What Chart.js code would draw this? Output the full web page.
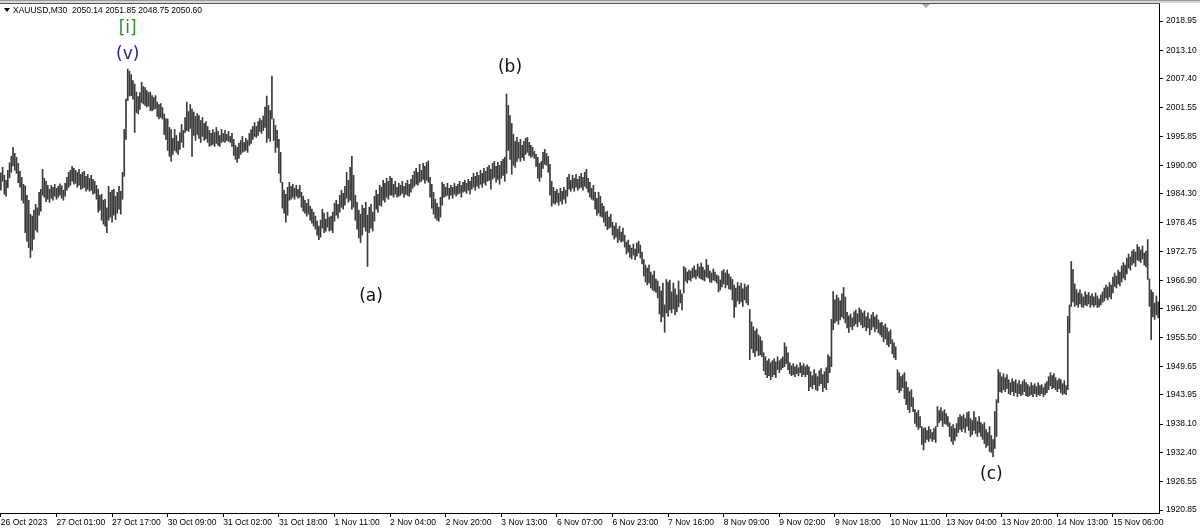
<!DOCTYPE html>
<html>
<head>
<meta charset="utf-8">
<script src="https://cdn.jsdelivr.net/npm/chart.js@4.4.1/dist/chart.umd.min.js"></script>
<style>
  html, body { margin: 0; padding: 0; background: #fff; }
  canvas { display: block; }
</style>
</head>
<body>
<canvas id="chart" width="1200" height="532"></canvas>
<script>
// XAUUSD M30 bars, high / low of each bar
const highs = [
  1988.5, 1989.6, 1988.0, 1987.0, 1989.0, 1990.5, 1991.8, 1993.6, 1992.4, 1991.6,
  1990.4, 1988.8, 1987.6, 1986.2, 1985.9, 1984.0, 1983.0, 1980.2, 1979.8, 1981.0,
  1982.2, 1981.5, 1984.6, 1985.2, 1989.2, 1987.4, 1986.8, 1986.0, 1985.2, 1986.0,
  1985.6, 1986.2, 1985.4, 1985.8, 1986.3, 1985.9, 1985.0, 1986.4, 1987.6, 1988.6,
  1989.0, 1989.8, 1989.4, 1989.0, 1988.6, 1989.2, 1988.2, 1988.6, 1988.8, 1987.8,
  1988.2, 1987.4, 1988.0, 1987.2, 1986.8, 1986.0, 1985.2, 1984.0, 1984.2, 1983.0,
  1983.2, 1981.5, 1985.8, 1984.6, 1985.0, 1985.2, 1983.8, 1984.6, 1985.8, 1984.8,
  1988.6, 1997.2, 2003.3, 2009.3, 2008.9, 2008.2, 2007.0, 2006.3, 2004.7, 2003.8,
  2004.6, 2006.7, 2005.8, 2005.6, 2005.0, 2004.6, 2004.7, 2004.0, 2003.6, 2004.0,
  2002.7, 2002.2, 2002.4, 2001.6, 2000.3, 1999.4, 1999.3, 1997.6, 1997.2, 1995.4,
  1997.2, 1996.0, 1994.8, 1996.5, 1998.2, 1997.0, 1999.6, 2002.7, 2000.8, 2002.2,
  2001.3, 2000.7, 1999.8, 2000.4, 2000.0, 1999.0, 1999.6, 1998.4, 1998.8, 1997.8,
  1997.0, 1996.4, 1997.2, 1996.6, 1997.6, 1996.8, 1996.0, 1997.2, 1996.4, 1997.0,
  1996.2, 1996.8, 1995.8, 1996.4, 1995.2, 1994.0, 1993.6, 1994.4, 1995.0, 1995.8,
  1994.6, 1995.4, 1995.0, 1996.4, 1997.2, 1997.8, 1998.6, 1997.8, 1998.8, 1999.4,
  1999.0, 1999.9, 2001.7, 2003.9, 2002.0, 2001.0, 2007.9, 1999.3, 1998.0, 1997.0,
  1995.2, 1992.6, 1986.6, 1985.0, 1984.2, 1985.6, 1986.6, 1985.8, 1986.2, 1985.4,
  1986.0, 1985.2, 1986.0, 1984.6, 1983.8, 1983.0, 1982.4, 1983.2, 1981.8, 1981.2,
  1980.6, 1979.8, 1978.8, 1977.8, 1979.0, 1981.2, 1980.4, 1979.2, 1980.6, 1979.6,
  1979.8, 1980.6, 1982.4, 1983.0, 1982.2, 1984.0, 1985.0, 1984.4, 1985.8, 1988.6,
  1987.0, 1989.6, 1991.8, 1988.0, 1984.0, 1982.6, 1981.0, 1980.2, 1982.0, 1981.4,
  1982.6, 1980.0, 1981.6, 1982.2, 1980.6, 1983.8, 1985.0, 1984.2, 1986.0, 1985.6,
  1987.0, 1986.4, 1987.4, 1986.8, 1987.8, 1987.4, 1986.2, 1986.8, 1985.6, 1986.4,
  1986.0, 1986.8, 1985.8, 1986.4, 1987.0, 1986.2, 1987.2, 1988.0, 1988.8, 1989.4,
  1988.6, 1990.2, 1989.0, 1990.4, 1989.8, 1990.6, 1990.9, 1987.6, 1986.2, 1984.6,
  1983.2, 1982.4, 1981.6, 1983.6, 1986.6, 1986.2, 1985.6, 1986.4, 1985.4, 1986.0,
  1985.6, 1986.4, 1985.8, 1986.2, 1986.8, 1986.0, 1986.6, 1987.0, 1986.4, 1987.2,
  1986.8, 1987.6, 1988.4, 1987.8, 1988.6, 1988.0, 1989.0, 1988.4, 1989.4, 1988.8,
  1989.6, 1990.0, 1989.2, 1990.4, 1990.8, 1989.8, 1990.6, 1990.0, 1990.8, 1991.2,
  1991.6, 2004.3, 2002.0, 2000.0, 1998.4, 1996.2, 1994.8, 1995.6, 1994.6, 1995.2,
  1994.0, 1994.8, 1995.4, 1995.6, 1994.6, 1994.0, 1993.6, 1992.8, 1992.2, 1991.6,
  1990.4, 1990.8, 1992.6, 1993.2, 1992.4, 1991.8, 1990.2, 1986.8, 1985.6, 1984.8,
  1985.2, 1984.4, 1985.4, 1984.8, 1985.6, 1985.0, 1987.6, 1988.2, 1987.0, 1988.0,
  1987.4, 1988.2, 1987.2, 1987.8, 1988.4, 1987.6, 1988.6, 1989.2, 1987.4, 1986.6,
  1985.4, 1986.0, 1984.6, 1983.4, 1984.6, 1983.8, 1982.4, 1981.8, 1980.6, 1980.8,
  1979.6, 1980.2, 1978.6, 1977.8, 1978.4, 1977.2, 1977.8, 1976.6, 1977.4, 1976.0,
  1974.6, 1975.0, 1974.0, 1973.4, 1974.2, 1973.2, 1974.4, 1974.8, 1974.0, 1972.6,
  1971.1, 1970.0, 1969.4, 1970.0, 1968.6, 1968.0, 1968.8, 1967.2, 1966.8, 1965.7,
  1964.8, 1966.4, 1962.0, 1967.1, 1966.6, 1967.0, 1964.6, 1966.4, 1965.2, 1964.0,
  1966.8, 1965.0, 1964.2, 1969.7, 1969.4, 1968.6, 1969.0, 1968.8, 1969.4, 1969.8,
  1969.0, 1970.2, 1969.6, 1970.4, 1969.6, 1969.0, 1971.1, 1970.0, 1968.8, 1968.4,
  1969.2, 1968.6, 1968.0, 1967.8, 1967.0, 1968.8, 1969.1, 1968.4, 1969.0, 1968.2,
  1967.6, 1967.1, 1966.0, 1965.4, 1966.5, 1965.8, 1966.4, 1965.2, 1966.2, 1965.6,
  1966.0, 1961.1, 1958.6, 1957.6, 1956.8, 1957.2, 1956.0, 1955.6, 1954.8, 1952.4,
  1951.6, 1950.8, 1951.2, 1950.4, 1950.8, 1951.2, 1950.6, 1951.6, 1950.8, 1951.2,
  1951.6, 1954.4, 1953.6, 1952.4, 1950.4, 1949.8, 1950.2, 1949.6, 1950.0, 1949.4,
  1950.4, 1949.8, 1950.2, 1949.6, 1950.0, 1949.6, 1948.6, 1947.8, 1949.0, 1948.2,
  1947.6, 1948.8, 1949.2, 1948.0, 1948.6, 1949.4, 1952.0, 1951.6, 1959.1, 1964.7,
  1963.0, 1964.0, 1963.4, 1962.8, 1964.2, 1965.5, 1963.6, 1960.5, 1959.8, 1960.2,
  1959.4, 1960.6, 1961.0, 1960.2, 1961.4, 1961.0, 1960.4, 1960.8, 1959.6, 1960.4,
  1959.2, 1960.0, 1960.5, 1959.6, 1960.0, 1959.0, 1958.4, 1958.5, 1957.8, 1958.2,
  1957.4, 1956.6, 1957.0, 1955.0, 1954.4, 1953.6, 1949.0, 1948.4, 1947.6, 1948.0,
  1948.4, 1946.6, 1945.4, 1944.6, 1945.0, 1943.4, 1941.0, 1940.4, 1940.8, 1939.6,
  1937.6, 1937.2, 1937.4, 1936.8, 1937.6, 1937.0, 1936.4, 1937.2, 1937.6, 1941.6,
  1940.8, 1941.4, 1940.6, 1941.0, 1940.2, 1939.6, 1938.4, 1937.6, 1938.0, 1937.2,
  1938.2, 1939.4, 1940.0, 1939.6, 1940.0, 1939.2, 1940.4, 1940.6, 1939.2, 1938.8,
  1940.6, 1939.4, 1938.6, 1939.6, 1938.4, 1938.0, 1938.4, 1937.0, 1936.4, 1937.6,
  1935.8, 1935.0, 1940.6, 1943.0, 1949.0, 1948.4, 1947.6, 1948.2, 1947.4, 1948.0,
  1947.0, 1946.4, 1947.2, 1946.6, 1947.0, 1946.2, 1946.8, 1946.0, 1946.6, 1947.0,
  1946.4, 1946.0, 1945.6, 1946.4, 1945.8, 1946.2, 1945.6, 1946.4, 1945.8, 1946.0,
  1945.4, 1946.2, 1946.6, 1947.6, 1948.4, 1947.8, 1948.2, 1947.4, 1946.8, 1947.2,
  1947.0, 1946.2, 1946.8, 1945.8, 1959.7, 1962.0, 1970.7, 1969.1, 1966.2, 1965.1,
  1964.4, 1965.0, 1964.2, 1963.6, 1964.6, 1964.0, 1964.5, 1963.8, 1964.2, 1963.6,
  1964.4, 1963.8, 1963.2, 1964.0, 1964.6, 1965.4, 1966.0, 1965.6, 1966.5, 1966.0,
  1967.6, 1968.4, 1967.8, 1969.0, 1968.6, 1969.8, 1970.5, 1970.0, 1971.4, 1972.2,
  1971.6, 1972.8, 1973.1, 1972.6, 1974.1, 1973.6, 1973.0, 1973.8, 1972.4, 1972.8,
  1975.1, 1967.2, 1965.0, 1964.5, 1962.4, 1963.8, 1962.6
];
const lows = [
  1985.0, 1986.8, 1984.2, 1983.8, 1985.5, 1987.5, 1988.6, 1989.9, 1989.0, 1988.4,
  1986.5, 1985.6, 1983.0, 1982.4, 1976.5, 1974.8, 1973.5, 1971.5, 1973.0, 1975.2,
  1977.0, 1976.6, 1980.0, 1980.8, 1984.0, 1983.6, 1982.7, 1983.2, 1982.6, 1983.4,
  1983.0, 1983.8, 1983.2, 1983.6, 1984.0, 1983.4, 1983.0, 1983.8, 1985.0, 1985.6,
  1986.0, 1986.8, 1986.2, 1986.4, 1985.6, 1986.0, 1985.2, 1985.4, 1985.6, 1984.8,
  1985.2, 1984.8, 1985.0, 1984.2, 1984.4, 1983.2, 1980.6, 1981.0, 1979.0, 1978.2,
  1977.8, 1976.5, 1979.0, 1979.6, 1978.6, 1980.0, 1979.1, 1980.4, 1981.2, 1980.2,
  1983.2, 1987.8, 1995.2, 2003.0, 2003.9, 2004.0, 2003.3, 1996.6, 2000.6, 2000.3,
  2001.2, 2002.6, 2002.3, 2002.0, 2001.7, 2001.9, 2001.0, 2000.9, 2001.2, 2001.4,
  1999.8, 1999.3, 1999.6, 1999.3, 1996.2, 1995.2, 1993.0, 1991.8, 1990.8, 1992.2,
  1993.0, 1992.6, 1992.2, 1993.2, 1994.6, 1993.6, 1996.6, 1997.0, 1996.8, 1997.4,
  1991.8, 1996.0, 1995.0, 1996.2, 1995.4, 1994.6, 1995.8, 1995.0, 1995.3, 1994.6,
  1993.8, 1994.0, 1994.2, 1993.8, 1994.4, 1994.0, 1993.8, 1994.6, 1994.8, 1994.6,
  1995.0, 1994.8, 1994.6, 1993.8, 1992.0, 1991.2, 1990.6, 1991.4, 1992.2, 1992.6,
  1992.8, 1993.0, 1992.6, 1994.0, 1994.4, 1995.2, 1995.8, 1995.6, 1996.0, 1996.8,
  1996.4, 1997.0, 1997.6, 1994.6, 1995.4, 1994.8, 1999.3, 1995.0, 1992.6, 1993.6,
  1988.4, 1986.6, 1981.4, 1980.4, 1978.6, 1980.0, 1983.0, 1983.2, 1983.6, 1983.2,
  1983.8, 1983.4, 1983.6, 1981.6, 1980.8, 1980.4, 1979.8, 1980.2, 1979.0, 1978.4,
  1977.8, 1977.2, 1976.0, 1975.1, 1975.6, 1977.4, 1976.5, 1976.8, 1977.6, 1976.8,
  1977.0, 1976.5, 1978.8, 1980.0, 1979.4, 1980.6, 1981.6, 1981.2, 1982.0, 1983.4,
  1982.6, 1983.0, 1981.2, 1981.6, 1979.0, 1977.2, 1975.4, 1974.5, 1976.0, 1977.6,
  1976.8, 1969.7, 1976.5, 1977.4, 1976.8, 1978.8, 1981.2, 1980.6, 1982.0, 1981.8,
  1983.0, 1982.6, 1983.6, 1983.2, 1984.0, 1984.0, 1983.6, 1984.2, 1983.6, 1983.8,
  1984.0, 1984.4, 1983.6, 1984.2, 1984.0, 1983.8, 1984.6, 1985.4, 1985.8, 1986.2,
  1986.0, 1986.6, 1986.8, 1987.2, 1986.4, 1987.0, 1986.6, 1983.6, 1981.4, 1980.2,
  1979.4, 1979.0, 1978.8, 1979.6, 1982.0, 1983.6, 1983.8, 1984.0, 1983.2, 1984.0,
  1983.4, 1984.2, 1983.8, 1984.2, 1984.4, 1983.6, 1984.6, 1984.8, 1984.4, 1985.0,
  1984.2, 1985.2, 1985.6, 1985.0, 1985.8, 1985.4, 1986.2, 1985.6, 1986.4, 1986.0,
  1986.8, 1987.0, 1985.2, 1987.2, 1987.6, 1986.6, 1987.2, 1986.2, 1987.4, 1988.0,
  1986.8, 1988.4, 1993.0, 1991.2, 1988.2, 1990.0, 1989.6, 1990.8, 1991.4, 1990.8,
  1991.6, 1991.0, 1992.2, 1992.6, 1992.0, 1991.6, 1991.8, 1991.4, 1989.8, 1987.4,
  1986.8, 1987.6, 1989.4, 1990.2, 1990.0, 1988.6, 1984.0, 1981.8, 1982.4, 1982.2,
  1982.6, 1982.0, 1982.8, 1982.2, 1983.2, 1982.4, 1983.8, 1985.2, 1984.8, 1985.4,
  1984.8, 1985.6, 1985.0, 1985.4, 1985.6, 1985.0, 1985.8, 1985.4, 1984.6, 1983.6,
  1983.2, 1983.0, 1981.2, 1980.0, 1980.4, 1979.8, 1979.6, 1978.6, 1977.8, 1977.1,
  1977.4, 1977.6, 1976.0, 1975.2, 1975.6, 1974.5, 1975.0, 1974.6, 1974.8, 1973.6,
  1972.2, 1972.6, 1971.6, 1971.2, 1972.0, 1971.1, 1971.8, 1972.4, 1971.4, 1970.2,
  1967.8, 1966.6, 1966.0, 1966.4, 1965.4, 1965.0, 1964.8, 1964.5, 1963.4, 1960.2,
  1958.6, 1959.6, 1956.5, 1960.4, 1959.7, 1961.0, 1960.4, 1961.2, 1960.0, 1960.6,
  1961.6, 1962.4, 1961.0, 1964.4, 1966.8, 1966.4, 1967.0, 1966.8, 1967.4, 1967.6,
  1967.2, 1967.8, 1967.4, 1967.2, 1967.0, 1966.8, 1967.6, 1967.4, 1966.6, 1966.5,
  1967.0, 1966.8, 1966.4, 1964.6, 1965.0, 1965.6, 1966.2, 1965.4, 1966.0, 1965.2,
  1965.1, 1963.0, 1959.5, 1961.6, 1962.8, 1962.2, 1962.6, 1961.7, 1963.0, 1962.4,
  1962.0, 1951.0, 1953.2, 1952.4, 1951.6, 1952.8, 1951.8, 1952.0, 1951.6, 1948.8,
  1948.0, 1947.4, 1947.8, 1947.0, 1947.6, 1948.0, 1947.4, 1949.0, 1948.4, 1949.0,
  1949.4, 1949.6, 1950.2, 1949.0, 1948.2, 1947.8, 1948.0, 1947.6, 1948.2, 1947.8,
  1948.4, 1947.6, 1948.0, 1947.6, 1948.0, 1944.8, 1945.6, 1945.2, 1946.0, 1945.0,
  1944.8, 1945.8, 1946.2, 1944.6, 1945.4, 1945.0, 1946.4, 1948.4, 1949.6, 1957.0,
  1958.4, 1958.8, 1958.1, 1959.0, 1959.6, 1959.2, 1958.4, 1957.4, 1956.5, 1957.6,
  1957.0, 1957.8, 1958.2, 1957.6, 1958.6, 1958.0, 1957.4, 1957.6, 1956.8, 1957.4,
  1956.0, 1957.0, 1957.6, 1956.6, 1957.2, 1956.4, 1956.0, 1955.6, 1954.6, 1955.2,
  1954.0, 1953.6, 1954.2, 1952.2, 1951.4, 1951.0, 1945.0, 1944.4, 1944.8, 1945.4,
  1943.2, 1942.0, 1941.0, 1940.4, 1941.6, 1940.6, 1938.2, 1937.6, 1937.0, 1937.4,
  1934.0, 1932.9, 1934.4, 1935.0, 1934.6, 1935.2, 1934.6, 1935.0, 1934.4, 1937.6,
  1938.4, 1938.8, 1937.6, 1938.2, 1938.0, 1937.6, 1935.6, 1934.6, 1934.0, 1934.8,
  1935.6, 1936.4, 1937.0, 1936.6, 1937.2, 1936.4, 1937.6, 1936.8, 1935.6, 1936.0,
  1936.8, 1936.2, 1935.6, 1936.4, 1935.6, 1935.0, 1934.2, 1933.4, 1933.8, 1932.6,
  1932.4, 1931.5, 1933.2, 1935.6, 1942.4, 1944.6, 1944.4, 1945.0, 1944.6, 1945.2,
  1944.2, 1944.0, 1944.6, 1943.8, 1944.4, 1943.6, 1944.2, 1943.8, 1944.0, 1944.6,
  1943.8, 1943.6, 1943.8, 1944.0, 1943.6, 1944.2, 1943.6, 1944.0, 1943.8, 1944.2,
  1943.6, 1944.0, 1944.4, 1945.0, 1945.8, 1945.2, 1945.4, 1945.0, 1944.6, 1945.2,
  1944.4, 1944.0, 1944.2, 1944.0, 1945.0, 1956.4, 1961.7, 1962.6, 1961.7, 1962.0,
  1961.5, 1962.2, 1961.6, 1961.5, 1962.0, 1961.8, 1962.2, 1961.5, 1962.0, 1961.6,
  1962.0, 1961.5, 1961.6, 1962.0, 1962.5, 1962.8, 1963.4, 1963.0, 1963.6, 1963.2,
  1964.4, 1965.7, 1965.4, 1966.2, 1965.8, 1966.6, 1967.4, 1967.0, 1968.2, 1969.4,
  1969.0, 1970.0, 1970.4, 1969.7, 1971.0, 1970.8, 1970.5, 1971.2, 1970.0, 1969.6,
  1967.1, 1961.7, 1955.0, 1959.6, 1959.1, 1960.0, 1959.4
];

// time axis labels, one every 32 bars
const tickLabels = ['26 Oct 2023', '27 Oct 01:00', '27 Oct 17:00', '30 Oct 09:00', '31 Oct 02:00',
  '31 Oct 18:00', '1 Nov 11:00', '2 Nov 04:00', '2 Nov 20:00', '3 Nov 13:00', '6 Nov 07:00',
  '6 Nov 23:00', '7 Nov 16:00', '8 Nov 09:00', '9 Nov 02:00', '9 Nov 18:00', '10 Nov 11:00',
  '13 Nov 04:00', '13 Nov 20:00', '14 Nov 13:00', '15 Nov 06:00'];
const tickBars = [0, 32, 64, 96, 128, 160, 192, 224, 256, 288, 320, 352, 384, 416, 448, 480, 512, 544, 576, 608, 640];

// price scale
const priceTicks = [2018.95, 2013.10, 2007.40, 2001.55, 1995.85, 1990.00, 1984.30, 1978.45, 1972.75,
  1966.90, 1961.20, 1955.50, 1949.65, 1943.95, 1938.10, 1932.40, 1926.55, 1920.85];
const priceMin = 1920.25;
const priceMax = 2022.37;

// wave labels
const waveText = ['[i]', '(v)', '(b)', '(a)', '(c)'];
const waveBar = [73, 73, 293, 213, 570];
const wavePrice = [2017.4, 2012.3, 2009.7, 1963.7, 1927.9];
const waveColor = ['#2f8a2f', '#23238c', '#111', '#111', '#111'];

const header = 'XAUUSD,M30  2050.14 2051.85 2048.75 2050.60';
const axisFont = { family: 'Liberation Sans', size: 8.5 };

const frame = {
  id: 'frame',
  afterDraw(chart) {
    const c = chart.ctx;
    const area = chart.chartArea;
    c.save();
    c.fillStyle = '#9a9a9a';
    c.fillRect(0, 0, chart.width, 1);
    c.fillStyle = '#d8d8d8';
    c.fillRect(0, 1, chart.width, 2);
    c.fillStyle = '#555';
    c.fillRect(0, 3, area.right + 1, 1);
    // small shift marker
    c.fillStyle = '#a8a8a8';
    c.beginPath();
    c.moveTo(922, 4); c.lineTo(930, 4); c.lineTo(926, 8); c.closePath();
    c.fill();
    // header
    c.fillStyle = '#000';
    c.beginPath();
    c.moveTo(4, 8); c.lineTo(10, 8); c.lineTo(7, 12); c.closePath();
    c.fill();
    c.font = '8.5px "Liberation Sans"';
    c.textBaseline = 'middle';
    c.fillText(header, 13, 11);
    c.restore();
  },
  afterDatasetsDraw(chart) {
    const c = chart.ctx;
    const xs = chart.scales.x, ys = chart.scales.y;
    c.save();
    c.font = '17px "DejaVu Sans"';
    c.textAlign = 'center';
    c.textBaseline = 'middle';
    waveText.forEach((t, i) => {
      c.fillStyle = waveColor[i];
      c.fillText(t, xs.getPixelForValue(waveBar[i]), ys.getPixelForValue(wavePrice[i]));
    });
    c.restore();
  }
};

new Chart('chart', {
  type: 'bar',
  data: {
    labels: highs.map((h, i) => i),
    datasets: [{
      data: lows.map((l, i) => [l, highs[i]]),
      backgroundColor: '#3a3a3a',
      borderWidth: 0,
      barThickness: 1
    }]
  },
  options: {
    responsive: false,
    animation: false,
    layout: { padding: { top: 4, left: 0, right: 0, bottom: 0 } },
    plugins: { legend: { display: false }, tooltip: { enabled: false } },
    scales: {
      x: {
        afterBuildTicks: (s) => { s.ticks = tickBars.map(v => ({ value: v })); },
        afterFit: (s) => { s.height = 19; s.paddingLeft = 0; s.paddingRight = 0; },
        grid: { drawOnChartArea: false, offset: false, tickLength: 4, color: '#000' },
        border: { color: '#000' },
        ticks: {
          autoSkip: false, maxRotation: 0, align: 'start', padding: 1,
          color: '#000', font: axisFont,
          callback: (v, i) => tickLabels[i]
        }
      },
      y: {
        position: 'right',
        min: priceMin,
        max: priceMax,
        afterBuildTicks: (s) => { s.ticks = priceTicks.map(v => ({ value: v })); },
        afterFit: (s) => { s.width = 41; s.paddingTop = 0; s.paddingBottom = 0; },
        grid: { drawOnChartArea: false, tickLength: 4, color: '#000' },
        border: { color: '#000' },
        ticks: {
          autoSkip: false, padding: 3, color: '#000', font: axisFont,
          callback: (v) => v.toFixed(2)
        }
      }
    }
  },
  plugins: [frame]
});
</script>
</body>
</html>
